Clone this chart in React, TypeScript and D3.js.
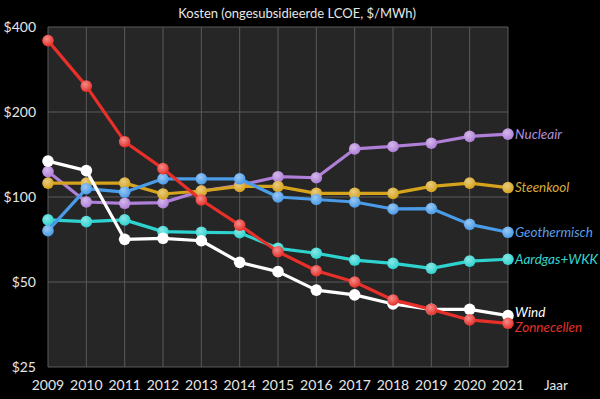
import React from "react";
import * as d3 from "d3";

// years on the x axis
const years = [2009, 2010, 2011, 2012, 2013, 2014, 2015, 2016, 2017, 2018, 2019, 2020, 2021];

// cost per technology, $/MWh
const nucleair = [123, 96, 95, 95.5, 105, 110, 118, 117, 148, 151, 155, 164, 167];
const steenkool = [112, 112, 112, 102.5, 105, 109, 109, 103, 103, 103, 109, 112, 108];
const aardgas = [83, 81.8, 83, 75.4, 75, 74.7, 65.8, 63.2, 59.8, 58.2, 55.9, 59.3, 60.2];
const geothermisch = [76, 107, 104, 116, 116, 116, 100, 98, 96, 90.7, 91, 80, 75];
const wind = [134, 124, 70.8, 71.4, 70, 58.7, 54.4, 46.8, 45, 41.8, 40, 40, 38];
const zonnecellen = [358, 247, 157, 126, 97.6, 79.5, 64, 54.8, 50, 43.2, 40, 36.7, 35.7];

const yTicks = [25, 50, 100, 200, 400];

// drawn bottom to top
const series = [
  { name: "Nucleair", values: nucleair, color: "#b07fd8", label: "#b48fdc", dy: 0 },
  { name: "Steenkool", values: steenkool, color: "#d6a31c", label: "#d9a93a", dy: 0 },
  { name: "Aardgas+WKK", values: aardgas, color: "#2ed3d0", label: "#35d6cf", dy: 0 },
  { name: "Geothermisch", values: geothermisch, color: "#4a9be8", label: "#5a9ee6", dy: 0 },
  { name: "Wind", values: wind, color: "#ffffff", label: "#ffffff", dy: -3 },
  { name: "Zonnecellen", values: zonnecellen, color: "#e8302a", label: "#e0302c", dy: 4 },
];

export default function App() {
  const width = 600;
  const height = 399;
  const margin = { top: 27, right: 92, bottom: 32, left: 48 };

  const x = d3.scaleLinear()
    .domain([2009, 2021])
    .range([margin.left, width - margin.right]);

  const y = d3.scaleLog()
    .domain([25, 400])
    .range([height - margin.bottom, margin.top]);

  const line = d3.line<number>()
    .x((d, i) => x(years[i]))
    .y((d) => y(d));

  const font = "Lato, 'Open Sans', sans-serif";

  return (
    <svg width={width} height={height} style={{ position: "absolute", left: 0, top: 0, background: "#000" }}>
      <defs>
        {series.map((s, i) => (
          <radialGradient key={i} id={"g" + i} cx="40%" cy="35%" r="65%">
            <stop offset="0%" stopColor={d3.interpolateRgb(s.color, "#fff")(0.45)} />
            <stop offset="100%" stopColor={s.color} />
          </radialGradient>
        ))}
      </defs>
      <rect x={0} y={0} width={width} height={height} fill="#000" />
      <rect
        x={margin.left}
        y={margin.top}
        width={width - margin.left - margin.right}
        height={height - margin.top - margin.bottom}
        fill="#262626"
      />
      {/* grid */}
      {years.map((yr) => (
        <line key={yr} x1={x(yr)} x2={x(yr)} y1={margin.top} y2={height - margin.bottom} stroke="#5a5a5a" strokeWidth={1} />
      ))}
      {yTicks.map((t) => (
        <line key={t} x1={margin.left} x2={width - margin.right} y1={y(t)} y2={y(t)} stroke="#5a5a5a" strokeWidth={1} />
      ))}

      {/* axis labels */}
      {yTicks.map((t) => (
        <text key={t} x={36} y={y(t)} dy="0.35em" textAnchor="end" fill="#e6e6e6" fontSize={14} fontFamily={font}>
          {"$" + t}
        </text>
      ))}
      {years.map((yr) => (
        <text key={yr} x={x(yr)} y={385} dy="0.35em" textAnchor="middle" fill="#e6e6e6" fontSize={14} fontFamily={font}>
          {yr}
        </text>
      ))}
      <text x={556} y={385} dy="0.35em" textAnchor="middle" fill="#e6e6e6" fontSize={13.5} fontFamily={font}>Jaar</text>
      <text x={297} y={13} dy="0.35em" textAnchor="middle" fill="#e6e6e6" fontSize={13} fontFamily={font}>
        Kosten (ongesubsidieerde LCOE, $/MWh)
      </text>

      {/* series */}
      {series.map((s, i) => (
        <g key={s.name}>
          <path d={line(s.values) || ""} fill="none" stroke={s.color} strokeWidth={3.2} strokeLinejoin="round" />
          {s.values.map((v, j) => (
            <circle key={j} cx={x(years[j])} cy={y(v)} r={5.8} fill={`url(#g${i})`} />
          ))}
          <text
            x={515}
            y={y(s.values[s.values.length - 1]) + s.dy}
            dy="0.35em"
            fill={s.label}
            fontSize={13.5}
            fontStyle="italic"
            fontFamily={font}
          >
            {s.name}
          </text>
        </g>
      ))}
    </svg>
  );
}
